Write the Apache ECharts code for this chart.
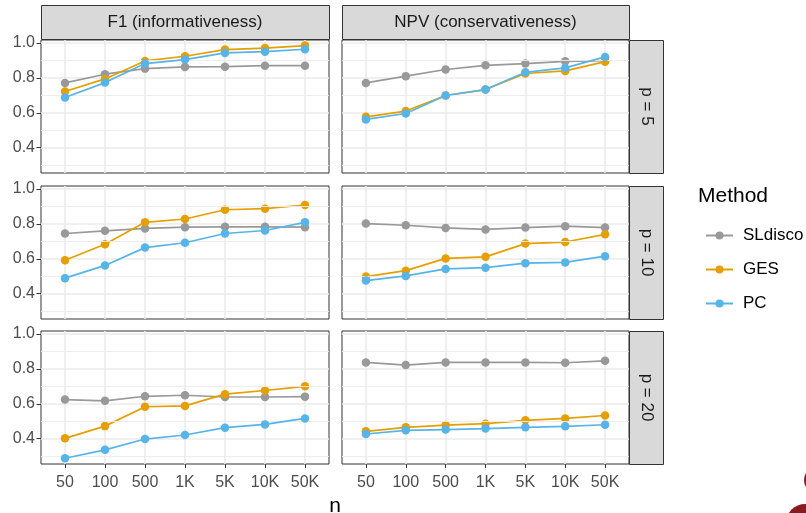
<!DOCTYPE html>
<html>
<head>
<meta charset="utf-8">
<script src="https://cdn.jsdelivr.net/npm/echarts@6/dist/echarts.min.js"></script>
<style>html,body{margin:0;padding:0;background:#fff}#c{width:806px;height:513px}</style>
</head>
<body>
<div id="c"></div>
<script>
// ---- data ----
const categories = ['50', '100', '500', '1K', '5K', '10K', '50K'];
const metrics = ['F1 (informativeness)', 'NPV (conservativeness)'];
const pLevels = ['p = 5', 'p = 10', 'p = 20'];
const methods = ['SLdisco', 'GES', 'PC'];
const methodColors = ['#999999', '#E69F00', '#56B4E9'];
const yBreaks = [0.4, 0.6, 0.8, 1.0];
const yMinorBreaks = [0.3, 0.5, 0.7, 0.9];

// F1, p = 5
const f1_p5_SLdisco = [0.771, 0.821, 0.853, 0.863, 0.864, 0.870, 0.870];
const f1_p5_GES     = [0.722, 0.794, 0.897, 0.924, 0.962, 0.971, 0.985];
const f1_p5_PC      = [0.688, 0.773, 0.882, 0.905, 0.943, 0.950, 0.964];
// NPV, p = 5
const npv_p5_SLdisco = [0.771, 0.810, 0.848, 0.872, 0.882, 0.895, 0.898];
const npv_p5_GES     = [0.577, 0.610, 0.699, 0.733, 0.825, 0.840, 0.893];
const npv_p5_PC      = [0.562, 0.596, 0.699, 0.733, 0.832, 0.857, 0.920];
// F1, p = 10
const f1_p10_SLdisco = [0.745, 0.760, 0.774, 0.781, 0.783, 0.783, 0.781];
const f1_p10_GES     = [0.592, 0.683, 0.809, 0.828, 0.881, 0.887, 0.908];
const f1_p10_PC      = [0.489, 0.562, 0.664, 0.692, 0.745, 0.762, 0.809];
// NPV, p = 10
const npv_p10_SLdisco = [0.802, 0.792, 0.777, 0.768, 0.779, 0.787, 0.779];
const npv_p10_GES     = [0.498, 0.532, 0.602, 0.611, 0.687, 0.696, 0.740];
const npv_p10_PC      = [0.475, 0.502, 0.542, 0.549, 0.575, 0.579, 0.615];
// F1, p = 20
const f1_p20_SLdisco = [0.624, 0.617, 0.643, 0.649, 0.639, 0.639, 0.641];
const f1_p20_GES     = [0.402, 0.472, 0.583, 0.588, 0.655, 0.676, 0.700];
const f1_p20_PC      = [0.288, 0.336, 0.398, 0.421, 0.463, 0.482, 0.516];
// NPV, p = 20
const npv_p20_SLdisco = [0.837, 0.822, 0.837, 0.837, 0.837, 0.835, 0.846];
const npv_p20_GES     = [0.442, 0.465, 0.478, 0.486, 0.505, 0.516, 0.533];
const npv_p20_PC      = [0.427, 0.448, 0.452, 0.458, 0.465, 0.471, 0.480];

// panels[row][col] = [SLdisco, GES, PC]
const panels = [
  [[f1_p5_SLdisco, f1_p5_GES, f1_p5_PC], [npv_p5_SLdisco, npv_p5_GES, npv_p5_PC]],
  [[f1_p10_SLdisco, f1_p10_GES, f1_p10_PC], [npv_p10_SLdisco, npv_p10_GES, npv_p10_PC]],
  [[f1_p20_SLdisco, f1_p20_GES, f1_p20_PC], [npv_p20_SLdisco, npv_p20_GES, npv_p20_PC]]
];

// ---- layout ----
const FONT = 'Liberation Sans';
const colLeft = [41, 342];
const colWidth = [288, 287];
const rowTop = [40, 186, 331];
const rowHeight = 133;
const stripTop = 5, stripH = 34;
const rstripLeft = 629, rstripW = 34;
const yMin = 0.255, yMax = 1.017;
const catIdx = categories.map((c, i) => i);

const grids = [], xAxes = [], yAxes = [], series = [];
let gi = 0;
for (let r = 0; r < 3; r++) {
  for (let c = 0; c < 2; c++) {
    grids.push({
      left: colLeft[c], top: rowTop[r], width: colWidth[c], height: rowHeight,
      show: true, backgroundColor: '#ffffff', borderColor: '#333333', borderWidth: 1
    });
    const bottomRow = r === 2, leftCol = c === 0;
    xAxes.push({
      gridIndex: gi, type: 'value', min: -0.6, max: categories.length - 0.4, position: 'bottom',
      axisLine: { show: false, onZero: false },
      axisTick: { show: bottomRow, customValues: catIdx, length: 4, lineStyle: { color: '#333333', width: 1 } },
      axisLabel: { show: bottomRow, customValues: catIdx, formatter: v => categories[Math.round(v)],
        margin: 11, fontSize: 16, color: '#4D4D4D', fontFamily: FONT },
      splitLine: { show: true, lineStyle: { color: '#EBEBEB', width: 1.6 } }
    });
    yAxes.push({
      gridIndex: gi, type: 'value', min: yMin, max: yMax, position: 'left',
      axisLine: { show: false, onZero: false },
      axisTick: { show: leftCol, customValues: yBreaks, length: 4.5, lineStyle: { color: '#333333', width: 1 } },
      axisLabel: { show: leftCol, customValues: yBreaks, formatter: v => v.toFixed(1),
        margin: 6, fontSize: 16, color: '#4D4D4D', fontFamily: FONT },
      splitLine: { show: true, lineStyle: { color: '#EBEBEB', width: 1.6 } }
    });
    // minor horizontal grid lines
    series.push({
      type: 'line', name: 'minor', xAxisIndex: gi, yAxisIndex: gi, data: [], z: 1, silent: true,
      markLine: { silent: true, symbol: 'none', label: { show: false }, animation: false,
        lineStyle: { color: '#EBEBEB', width: 0.9, type: 'solid' },
        data: yMinorBreaks.map(v => ({ yAxis: v })) }
    });
    panels[r][c].forEach((vals, m) => {
      series.push({
        type: 'line', name: methods[m], xAxisIndex: gi, yAxisIndex: gi, z: 3 + m,
        data: vals.map((v, k) => [k, v]),
        symbol: 'circle', symbolSize: 8.5, showSymbol: true,
        itemStyle: { color: methodColors[m] },
        lineStyle: { color: methodColors[m], width: 1.7 }
      });
    });
    gi++;
  }
}

const graphics = [];
metrics.forEach((t, c) => {
  graphics.push({ type: 'rect', shape: { x: colLeft[c] + 0.5, y: stripTop + 0.5, width: colWidth[c], height: stripH },
    style: { fill: '#D9D9D9', stroke: '#333333', lineWidth: 1 }, z: 10 });
  graphics.push({ type: 'text', x: colLeft[c] + colWidth[c] / 2, y: stripTop + stripH / 2 + 0.5,
    style: { text: t, fill: '#1A1A1A', font: '17px "' + FONT + '"', textAlign: 'center', textVerticalAlign: 'middle' }, z: 11 });
});
pLevels.forEach((t, r) => {
  graphics.push({ type: 'rect', shape: { x: rstripLeft + 0.5, y: rowTop[r] + 0.5, width: rstripW, height: rowHeight },
    style: { fill: '#D9D9D9', stroke: '#333333', lineWidth: 1 }, z: 10 });
  graphics.push({ type: 'text', x: rstripLeft + rstripW / 2 + 1, y: rowTop[r] + rowHeight / 2, rotation: -Math.PI / 2,
    style: { text: t, fill: '#1A1A1A', font: '17px "' + FONT + '"', textAlign: 'center', textVerticalAlign: 'middle' }, z: 11 });
});
// axis title
graphics.push({ type: 'text', x: (colLeft[0] + colLeft[1] + colWidth[1]) / 2, y: 506,
  style: { text: 'n', fill: '#000000', font: '21px "' + FONT + '"', textAlign: 'center', textVerticalAlign: 'middle' } });
// legend title
graphics.push({ type: 'text', x: 698, y: 196,
  style: { text: 'Method', fill: '#000000', font: '21px "' + FONT + '"', textAlign: 'left', textVerticalAlign: 'middle' } });
// decorative corner shapes
graphics.push({ type: 'circle', shape: { cx: 818, cy: 480, r: 14 }, style: { fill: '#8B1A1F' } });
graphics.push({ type: 'circle', shape: { cx: 805, cy: 523, r: 19 }, style: { fill: '#8B1A1F' } });

const chart = echarts.init(document.getElementById('c'), null, { renderer: 'canvas' });
chart.setOption({
  animation: false,
  backgroundColor: '#ffffff',
  textStyle: { fontFamily: FONT },
  grid: grids,
  xAxis: xAxes,
  yAxis: yAxes,
  legend: {
    data: methods, orient: 'vertical', left: 700, top: 222,
    itemWidth: 27, itemHeight: 10, itemGap: 17,
    textStyle: { fontSize: 17, color: '#000000', fontFamily: FONT, padding: [0, 0, 0, 5] }
  },
  series: series,
  graphic: graphics
});
</script>
</body>
</html>
